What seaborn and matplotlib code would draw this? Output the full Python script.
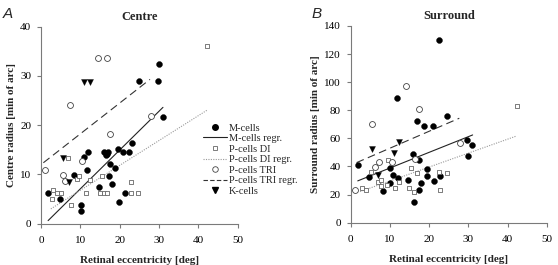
import numpy as np
import matplotlib
matplotlib.use("Agg")
import matplotlib.pyplot as plt
import seaborn as sns
from matplotlib.lines import Line2D

# ---------- data ----------
# Panel A: centre radius [min of arc]
m_x_a = [1.8, 4.8, 8.4, 10.1, 10.1, 10.9, 11.8, 12.0, 14.7, 16.1, 16.7, 17.1, 16.5, 17.6,
         17.4, 18.0, 18.8, 19.5, 19.7, 20.9, 21.4, 22.4, 23.1, 25.0, 29.7, 30.1, 31.0]
m_y_a = [6.2, 5.0, 9.9, 3.8, 2.6, 13.5, 10.9, 14.5, 7.4, 14.5, 14.1, 14.5, 13.9, 12.1,
         9.7, 8.0, 11.4, 15.1, 4.3, 14.5, 6.2, 14.5, 16.3, 29.0, 29.0, 32.5, 21.7]
di_x_a = [2.8, 3.1, 4.1, 5.2, 6.9, 7.7, 9.2, 9.6, 11.5, 12.4, 15.0, 15.6, 15.9, 16.9,
          22.8, 22.9, 24.6, 42.3]
di_y_a = [5.0, 6.8, 6.3, 6.3, 13.3, 3.8, 9.0, 9.7, 6.3, 8.9, 6.2, 9.7, 6.2, 6.2,
          8.5, 6.2, 6.2, 36.0]
tri_x_a = [1.1, 5.6, 6.2, 7.3, 10.5, 14.4, 16.7, 17.6, 28.0]
tri_y_a = [10.9, 9.9, 8.7, 24.1, 12.8, 33.7, 33.7, 18.2, 21.9]
k_x_a = [5.6, 7.1, 11.0, 12.5]
k_y_a = [13.3, 8.5, 28.8, 28.8]

# Panel B: surround radius [min of arc]
m_x_b = [1.8, 4.7, 8.2, 10.0, 10.0, 10.9, 12.0, 11.8, 14.5, 15.8, 16.1, 17.0, 17.5,
         17.3, 17.9, 18.7, 19.4, 19.5, 20.9, 21.2, 22.4, 22.9, 24.6, 29.6, 30.0, 30.9]
m_y_b = [41.1, 32.7, 22.8, 38.7, 28.5, 33.9, 31.6, 89.0, 30.4, 48.5, 15.0, 72.6, 44.6,
         23.3, 28.0, 68.8, 33.2, 38.0, 68.8, 29.9, 130.0, 33.2, 75.9, 58.9, 47.5, 55.3]
di_x_b = [2.8, 3.8, 5.1, 7.0, 7.7, 7.7, 9.2, 9.4, 11.3, 12.4, 14.9, 15.3, 16.1, 16.8,
          22.6, 22.9, 24.5, 42.3]
di_y_b = [24.5, 23.3, 36.3, 29.2, 30.4, 26.1, 26.8, 44.6, 24.5, 29.2, 24.5, 38.7, 22.1,
          35.1, 36.3, 23.3, 35.1, 83.0]
tri_x_b = [1.1, 5.5, 6.2, 7.3, 10.5, 14.2, 16.4, 17.5, 27.9]
tri_y_b = [23.3, 70.0, 39.9, 43.4, 43.4, 97.5, 45.1, 81.0, 56.9]
k_x_b = [5.4, 7.0, 11.0, 12.3]
k_y_b = [52.2, 33.9, 49.4, 57.7]

# regression lines (slope, intercept, x-range)
m_fit_a = [0.788, -0.8, 1.8, 31.0]
di_fit_a = [0.505, 1.74, 2.5, 42.3]
tri_fit_a = [0.625, 12.0, 0.6, 27.7]
m_fit_b = [1.116, 27.7, 1.8, 31.1]
di_fit_b = [0.992, 19.7, 2.4, 42.3]
tri_fit_b = [1.206, 40.9, 1.5, 27.7]

labels = ["M-cells", "M-cells regr.", "P-cells DI", "P-cells DI regr.",
          "P-cells TRI", "P-cells TRI regr.", "K-cells"]

sns.set_style("ticks")
plt.rcParams['font.family'] = ['Liberation Serif', 'DejaVu Serif']

fig = plt.figure(figsize=(5.58, 2.65), dpi=100)
ax_a = fig.add_axes([0.0735, 0.156, 0.3525, 0.743])
ax_b = fig.add_axes([0.6285, 0.160, 0.3513, 0.742])

axis_col = "#7a7a7a"


def draw_panel(ax, mx, my, dx, dy, tx, ty, kx, ky, fits):
    sns.scatterplot(x=mx, y=my, ax=ax, marker="o", color="black", s=18,
                    edgecolor="black", linewidth=0.3, zorder=3)
    sns.scatterplot(x=dx, y=dy, ax=ax, marker="s", facecolor="white", s=12,
                    edgecolor="#666666", linewidth=0.6, zorder=3)
    sns.scatterplot(x=tx, y=ty, ax=ax, marker="o", facecolor="white", s=18,
                    edgecolor="#444444", linewidth=0.6, zorder=3)
    sns.scatterplot(x=kx, y=ky, ax=ax, marker="v", color="black", s=18,
                    edgecolor="black", linewidth=0.3, zorder=3)
    styles = [dict(color="#222222", ls="-", lw=0.8),
              dict(color="#9a9a9a", ls=(0, (1, 1.2)), lw=0.8),
              dict(color="#333333", ls=(0, (7, 4)), lw=0.8)]
    for (k, b, x0, x1), st in zip(fits, styles):
        xs = np.array([x0, x1])
        ax.plot(xs, k * xs + b, zorder=2, **st)
    ax.set_xlim(0, 50)
    ax.set_xticks(range(0, 51, 10))
    sns.despine(ax=ax)
    for sp in ["left", "bottom"]:
        ax.spines[sp].set_color(axis_col)
        ax.spines[sp].set_linewidth(0.8)
    ax.tick_params(colors=axis_col, labelcolor="black", labelsize=8,
                   length=3, width=0.8)
    ax.tick_params(axis="x", pad=6)
    ax.tick_params(axis="y", pad=4)
    ax.set_xlabel("Retinal eccentricity [deg]", fontsize=8, fontweight="bold",
                  labelpad=8)


draw_panel(ax_a, m_x_a, m_y_a, di_x_a, di_y_a, tri_x_a, tri_y_a, k_x_a, k_y_a,
           [m_fit_a, di_fit_a, tri_fit_a])
ax_a.set_ylim(0, 40)
ax_a.set_yticks(range(0, 41, 10))
ax_a.set_ylabel("Centre radius [min of arc]", fontsize=8, fontweight="bold",
                labelpad=3)
ax_a.set_title("Centre", fontsize=9, fontweight="bold", pad=5)

draw_panel(ax_b, m_x_b, m_y_b, di_x_b, di_y_b, tri_x_b, tri_y_b, k_x_b, k_y_b,
           [m_fit_b, di_fit_b, tri_fit_b])
ax_b.set_ylim(0, 140)
ax_b.set_yticks(range(0, 141, 20))
ax_b.set_ylabel("Surround radius [min of arc]", fontsize=8, fontweight="bold",
                labelpad=3)
ax_b.set_title("Surround", fontsize=9, fontweight="bold", pad=5)

# legend (panel A only)
handles = [
    Line2D([], [], ls="none", marker="o", color="black", markersize=4),
    Line2D([], [], color="#222222", lw=0.8),
    Line2D([], [], ls="none", marker="s", markerfacecolor="white",
           markeredgecolor="#666666", markeredgewidth=0.6, markersize=3.4),
    Line2D([], [], color="#9a9a9a", ls=(0, (1, 1.2)), lw=0.8),
    Line2D([], [], ls="none", marker="o", markerfacecolor="white",
           markeredgecolor="#444444", markeredgewidth=0.6, markersize=4),
    Line2D([], [], color="#333333", ls=(0, (4, 2)), lw=0.8),
    Line2D([], [], ls="none", marker="v", color="black", markersize=4),
]
ax_a.legend(handles, labels, loc="upper left", bbox_to_anchor=(0.824, 0.51),
            frameon=False, fontsize=7.5, handlelength=2.3, handletextpad=0.15,
            labelspacing=0.12, borderpad=0, borderaxespad=0)

fig.text(0.005, 0.975, "A", fontsize=11, style="italic", va="top",
         family=["Liberation Sans", "DejaVu Sans"])
fig.text(0.558, 0.975, "B", fontsize=11, style="italic", va="top",
         family=["Liberation Sans", "DejaVu Sans"])

fig.savefig("out.png", dpi=100)
